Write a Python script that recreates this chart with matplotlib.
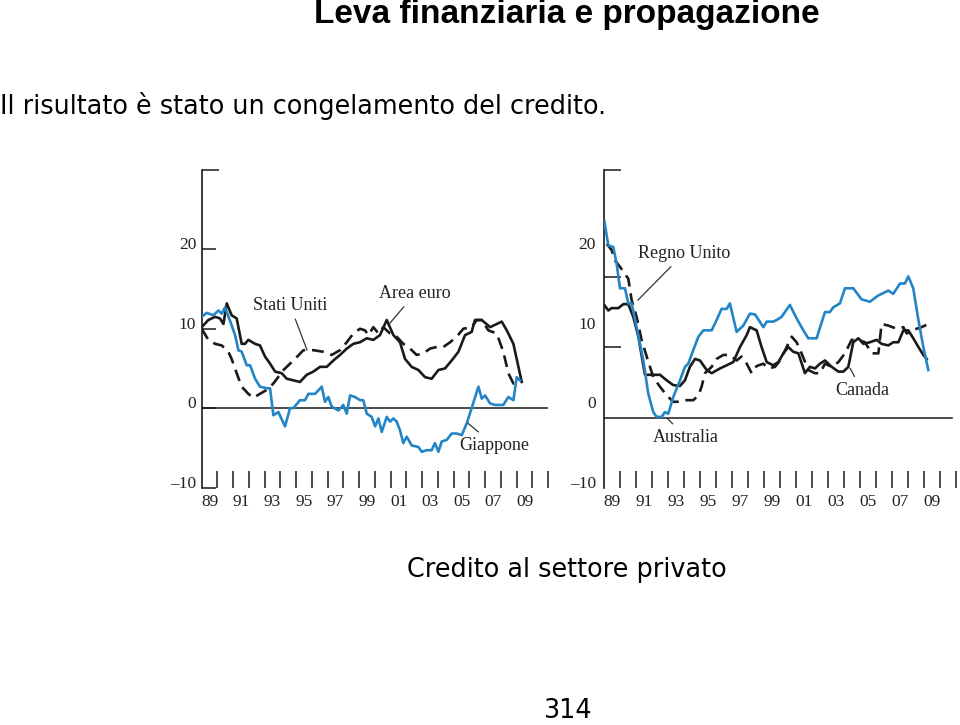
import matplotlib
matplotlib.use("Agg")
import matplotlib.pyplot as plt

# ---------------- data (annual growth of private-sector credit, %) -------------
# Left panel
jp_x = [1989.0, 1989.32, 1989.74, 1990.06, 1990.27, 1990.48, 1990.8, 1991.12, 1991.33, 1991.54,
        1991.86, 1992.07, 1992.39, 1992.7, 1993.13, 1993.34, 1993.55, 1993.87, 1994.29, 1994.61,
        1994.82, 1995.24, 1995.56, 1995.77, 1996.2, 1996.62, 1996.83, 1997.04, 1997.25, 1997.68,
        1997.99, 1998.21, 1998.42, 1998.74, 1999.05, 1999.26, 1999.48, 1999.79, 2000.01, 2000.22,
        2000.43, 2000.75, 2000.96, 2001.17, 2001.38, 2001.59, 2001.8, 2002.02, 2002.33, 2002.76,
        2002.97, 2003.29, 2003.6, 2003.81, 2004.03, 2004.24, 2004.56, 2004.87, 2005.19, 2005.51,
        2005.83, 2006.14, 2006.57, 2006.78, 2006.99, 2007.31, 2007.62, 2008.15, 2008.47, 2008.79,
        2009.0, 2009.21]
jp_y = [11.5, 12.0, 11.7, 12.3, 11.9, 12.7, 11.0, 9.2, 7.3, 7.1,
        5.4, 5.4, 3.7, 2.7, 2.5, 2.5, -0.9, -0.5, -2.3, 0.0,
        0.0, 1.0, 1.0, 1.8, 1.8, 2.7, 0.8, 1.4, 0.2, -0.3,
        0.4, -0.7, 1.6, 1.4, 1.0, 1.0, -0.7, -1.1, -2.3, -1.3,
        -3.0, -1.1, -1.7, -1.3, -1.7, -2.8, -4.4, -3.6, -4.7, -4.9,
        -5.5, -5.3, -5.3, -4.4, -5.5, -4.2, -4.0, -3.2, -3.2, -3.4,
        -1.9, 0.0, 2.7, 1.2, 1.6, 0.6, 0.4, 0.4, 1.4, 1.0,
        3.9, 3.5]

us_x = [1989.0, 1989.42, 1989.85, 1990.27, 1990.69, 1990.9, 1991.22, 1991.54, 1991.96, 1992.28,
        1992.7, 1993.13, 1993.55, 1994.19, 1994.82, 1995.46, 1996.09, 1996.72, 1997.25, 1997.78,
        1998.21, 1998.63, 1999.05, 1999.37, 1999.58, 1999.9, 2000.22, 2000.53, 2000.96, 2001.38,
        2001.8, 2002.23, 2002.65, 2003.07, 2003.5, 2003.92, 2004.34, 2004.77, 2005.19, 2005.61,
        2006.14, 2006.46, 2006.78, 2007.2, 2007.73, 2008.15, 2008.47, 2008.79, 2009.11]
us_y = [10.0, 8.6, 8.1, 7.9, 7.1, 6.2, 4.4, 2.7, 1.8, 1.3,
        1.8, 2.3, 3.1, 4.8, 6.0, 7.3, 7.3, 7.1, 6.7, 7.3,
        8.3, 9.4, 10.0, 9.8, 9.2, 10.2, 9.4, 10.2, 9.4, 9.0,
        8.1, 7.5, 6.7, 6.9, 7.5, 7.7, 7.7, 8.3, 9.0, 10.0,
        10.2, 11.1, 11.1, 9.8, 9.4, 7.1, 4.4, 3.1, 3.3]

eu_x = [1989.0, 1989.42, 1989.85, 1990.16, 1990.38, 1990.59, 1990.9, 1991.22, 1991.54, 1991.75,
        1991.96, 1992.39, 1992.7, 1993.02, 1993.34, 1993.66, 1994.08, 1994.4, 1994.82, 1995.24,
        1995.67, 1996.09, 1996.51, 1996.94, 1997.36, 1997.78, 1998.21, 1998.63, 1999.05, 1999.48,
        1999.9, 2000.32, 2000.75, 2001.17, 2001.59, 2001.91, 2002.33, 2002.76, 2003.18, 2003.6,
        2004.03, 2004.45, 2004.87, 2005.3, 2005.72, 2006.14, 2006.35, 2006.78, 2007.31, 2008.05,
        2008.37, 2008.79, 2009.11, 2009.32]
eu_y = [10.2, 11.1, 11.5, 11.3, 10.6, 13.2, 11.7, 11.3, 8.1, 8.1,
        8.6, 8.1, 7.9, 6.5, 5.6, 4.6, 4.4, 3.7, 3.5, 3.3,
        4.2, 4.6, 5.2, 5.2, 6.0, 6.7, 7.5, 8.1, 8.3, 8.8,
        8.6, 9.2, 11.1, 9.2, 8.3, 6.2, 5.2, 4.8, 3.9, 3.7,
        4.8, 5.0, 6.0, 7.1, 9.2, 9.6, 11.1, 11.1, 10.2, 10.9,
        9.8, 8.1, 5.2, 3.3]

# Right panel
au_x = [1989.0, 1989.25, 1989.56, 1989.77, 1989.98, 1990.29, 1990.5, 1990.71, 1991.02, 1991.44,
        1991.75, 1992.06, 1992.27, 1992.58, 1992.79, 1993.0, 1993.31, 1993.73, 1994.04, 1994.25,
        1994.56, 1994.88, 1995.19, 1995.71, 1996.02, 1996.33, 1996.65, 1996.85, 1997.27, 1997.69,
        1998.1, 1998.42, 1998.94, 1999.15, 1999.56, 1999.77, 2000.08, 2000.6, 2001.02, 2001.44,
        2001.75, 2002.27, 2002.79, 2003.1, 2003.31, 2003.73, 2004.04, 2004.56, 2005.08, 2005.6,
        2006.13, 2006.75, 2007.06, 2007.48, 2007.79, 2008.0, 2008.31, 2008.63, 2008.94, 2009.25]
au_y = [23.6, 20.5, 20.3, 18.2, 15.1, 15.1, 13.2, 13.2, 10.2, 6.0,
        1.8, -0.5, -1.1, -1.1, -0.5, -0.7, 1.4, 3.5, 5.2, 5.6,
        7.3, 9.0, 9.8, 9.8, 11.1, 12.5, 12.5, 13.2, 9.6, 10.4,
        11.9, 11.8, 10.2, 10.9, 10.9, 11.1, 11.5, 13.0, 11.3, 9.8,
        8.8, 8.8, 12.1, 12.1, 12.7, 13.2, 15.1, 15.1, 13.7, 13.4,
        14.2, 14.8, 14.4, 15.7, 15.7, 16.6, 15.1, 11.1, 7.7, 4.8]

uk_x = [1989.15, 1989.46, 1989.67, 1989.98, 1990.29, 1990.5, 1990.71, 1991.02, 1991.33, 1991.65,
        1992.06, 1992.48, 1992.9, 1993.31, 1993.73, 1994.15, 1994.56, 1994.88, 1995.08, 1995.29,
        1995.71, 1996.02, 1996.44, 1996.85, 1997.27, 1997.58, 1997.9, 1998.21, 1998.52, 1998.94,
        1999.25, 1999.67, 1999.98, 2000.4, 2000.71, 2001.02, 2001.33, 2001.75, 2002.17, 2002.48,
        2002.79, 2003.21, 2003.63, 2004.04, 2004.46, 2004.88, 2005.29, 2005.71, 2006.13, 2006.33,
        2006.75, 2007.27, 2007.69, 2007.9, 2008.21, 2008.52, 2008.83, 2009.25]
uk_y = [20.7, 19.9, 18.6, 17.8, 16.9, 16.3, 13.6, 11.5, 8.6, 6.5,
        3.9, 2.7, 1.6, 0.8, 0.8, 1.0, 1.0, 1.6, 2.7, 4.4,
        5.2, 6.2, 6.7, 6.7, 6.0, 6.5, 5.6, 4.4, 5.3, 5.6,
        5.0, 5.2, 6.0, 7.7, 9.0, 8.3, 6.9, 4.8, 4.4, 4.4,
        5.6, 5.2, 5.8, 6.9, 8.6, 8.6, 8.3, 6.9, 6.9, 10.6,
        10.4, 10.0, 10.2, 9.4, 9.8, 10.0, 10.2, 10.6]

ca_x = [1989.0, 1989.25, 1989.46, 1989.88, 1990.19, 1990.5, 1990.81, 1991.13, 1991.54, 1991.96,
        1992.48, 1992.9, 1993.31, 1993.73, 1994.04, 1994.35, 1994.67, 1994.98, 1995.4, 1995.71,
        1996.23, 1996.65, 1997.06, 1997.48, 1997.9, 1998.1, 1998.52, 1998.83, 1999.15, 1999.56,
        1999.88, 2000.19, 2000.5, 2000.81, 2001.13, 2001.54, 2001.85, 2002.17, 2002.48, 2002.79,
        2003.21, 2003.63, 2003.94, 2004.25, 2004.56, 2004.88, 2005.19, 2005.6, 2006.02, 2006.33,
        2006.75, 2007.06, 2007.38, 2007.69, 2008.0, 2008.31, 2008.63, 2008.94, 2009.15]
ca_y = [13.0, 12.3, 12.6, 12.6, 13.1, 13.1, 11.5, 9.0, 4.2, 4.2,
        4.2, 3.5, 2.9, 2.8, 3.5, 5.2, 6.2, 6.0, 4.8, 4.4,
        5.0, 5.4, 5.8, 7.7, 9.2, 10.2, 9.8, 7.7, 5.8, 5.4,
        5.8, 6.9, 7.7, 7.1, 6.9, 4.4, 5.2, 5.0, 5.6, 6.0,
        5.2, 4.6, 4.6, 5.2, 8.3, 8.8, 8.1, 8.3, 8.6, 8.1,
        7.9, 8.3, 8.3, 9.8, 9.8, 8.8, 7.7, 6.7, 6.2]

year_label_pos = [1989.5, 1991.5, 1993.5, 1995.5, 1997.5, 1999.5, 2001.5, 2003.5, 2005.5, 2007.5, 2009.5]
year_labels = ["89", "91", "93", "95", "97", "99", "01", "03", "05", "07", "09"]
year_ticks = list(range(1990, 2012))
y_ticks = [-10, 0, 10, 20]
y_labels = ["\u201310", "0", "10", "20"]

# ---------------- styling -------------
BLUE = "#2385c6"
BLACK = "#1a1a1a"
SERIF = ["Liberation Serif", "DejaVu Serif"]
LW = 1.9
DASH = (0, (4.5, 2.6))

fig = plt.figure(figsize=(9.6, 7.25), dpi=100)


def setup(ax, minor_y):
    ax.set_xlim(1989, 2011)
    ax.set_ylim(-10, 30)
    for s in ["top", "right", "bottom"]:
        ax.spines[s].set_visible(False)
    ax.spines["left"].set_linewidth(1.2)
    ax.spines["left"].set_color(BLACK)
    ax.set_facecolor("none")
    ax.set_xticks(year_ticks)
    ax.set_xticklabels([])
    ax.set_xticks(year_label_pos, minor=True)
    ax.set_xticklabels(year_labels, minor=True, fontfamily=SERIF, fontsize=12.5)
    ax.tick_params(axis="x", which="major", direction="in", length=12, width=1.1, color=BLACK)
    ax.tick_params(axis="x", which="minor", length=0, pad=5, labelcolor="#222222")
    ax.set_yticks(y_ticks)
    ax.set_yticklabels(y_labels, fontfamily=SERIF, fontsize=12.5, va="baseline", color="#222222")
    ax.set_yticks(minor_y, minor=True)
    ax.tick_params(axis="y", which="minor", direction="in", length=12, width=1.1, color=BLACK)


axL = fig.add_axes([201.7 / 960, 1 - 487.5 / 725, 346.5 / 960, 317.5 / 725])
setup(axL, [30])
axL.tick_params(axis="y", which="major", direction="in", length=10, width=1.1, color=BLACK, pad=4)
axL.axhline(0, color=BLACK, lw=1.1)
axL.plot(jp_x, jp_y, color=BLUE, lw=LW, zorder=3)
axL.plot(us_x, us_y, color=BLACK, lw=LW, linestyle=DASH, zorder=2)
axL.plot(eu_x, eu_y, color=BLACK, lw=LW, zorder=2)

axR = fig.add_axes([604.3 / 960, 1 - 487.5 / 725, 352 / 960, 317.5 / 725])
setup(axR, [7.7, 16.5, 30])
axR.tick_params(axis="y", which="major", length=0, pad=6)
axR.axhline(-1.2, xmin=0, xmax=0.988, color=BLACK, lw=1.1)
axR.plot(au_x, au_y, color=BLUE, lw=LW, zorder=3)
axR.plot(uk_x, uk_y, color=BLACK, lw=LW, linestyle=DASH, zorder=2)
axR.plot(ca_x, ca_y, color=BLACK, lw=LW, zorder=2)

ann = dict(fontfamily=SERIF, fontsize=13, color="#222222", ha="center", va="center",
           arrowprops=dict(arrowstyle="-", color="#333333", lw=0.9, shrinkA=2, shrinkB=0))
axL.annotate("Stati Uniti", xy=(1995.69, 7.3), xytext=(1994.61, 12.96), **ann)
axL.annotate("Area euro", xy=(2000.95, 10.7), xytext=(2002.56, 14.47), **ann)
axL.annotate("Giappone", xy=(2005.9, -1.9), xytext=(2007.57, -4.65), **ann)
axR.annotate("Regno Unito", xy=(1991.1, 13.6), xytext=(1993.98, 19.5), **ann)
axR.annotate("Australia", xy=(1992.92, -1.26), xytext=(1994.1, -3.65), **ann)
axR.annotate("Canada", xy=(2004.36, 5.03), xytext=(2005.1, 2.26), **ann)

# ---------------- slide texts -------------
fig.text(567 / 960, 1 - 15 / 725, "Leva finanziaria e propagazione", ha="center", va="center",
         fontfamily="Liberation Sans", fontweight="bold", fontsize=24)
fig.text(0, 1 - 106 / 725, "Il risultato \u00e8 stato un congelamento del credito.", ha="left",
         va="center", fontfamily="DejaVu Sans", fontsize=18.4)
fig.text(567 / 960, 1 - 570 / 725, "Credito al settore privato", ha="center", va="center",
         fontfamily="DejaVu Sans", fontsize=18.4)
fig.text(567 / 960, 1 - 711 / 725, "314", ha="center", va="center",
         fontfamily="DejaVu Sans", fontsize=18.4)

fig.savefig("out.png", dpi=100)
